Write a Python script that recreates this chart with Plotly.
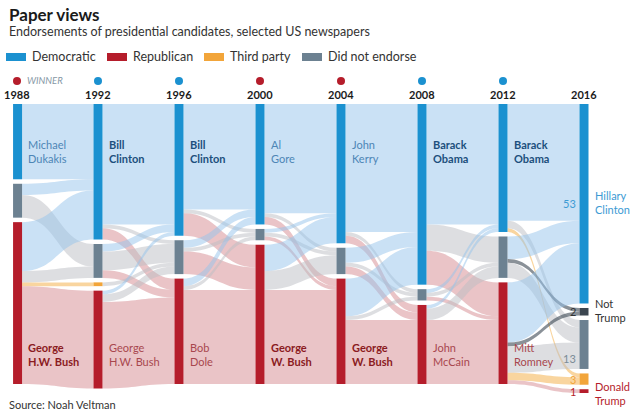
import plotly.graph_objects as go

years = ["1988", "1992", "1996", "2000", "2004", "2008", "2012", "2016"]
winners = ["R", "D", "D", "R", "R", "D", "D", None]

# node categories in each column, top to bottom
col_cats = [
    ["D", "G", "R"],
    ["D", "G", "T", "R"],
    ["D", "G", "R"],
    ["D", "G", "R"],
    ["D", "G", "R"],
    ["D", "G", "R"],
    ["D", "G", "R"],
    ["D", "NT", "G", "T", "R"],
]

# papers moving between elections (rows = from, cols = to)
flow_1988_1992 = [[20, 0, 0, 0], [3, 6, 0, 0], [13, 3, 1, 26]]
flow_1992_1996 = [[32, 1, 3], [2, 5, 2], [0, 1, 0], [1, 2, 23]]
flow_1996_2000 = [[28, 1, 6], [2, 1, 6], [2, 1, 25]]
flow_2000_2004 = [[29, 1, 2], [1, 1, 1], [7, 5, 25]]
flow_2004_2008 = [[34, 1, 2], [4, 1, 2], [10, 1, 17]]
flow_2008_2012 = [[32, 7, 9], [1, 1, 1], [1, 3, 17]]
flow_2012_2016 = [[31, 0, 2, 1, 0], [6, 1, 4, 0, 0], [16, 1, 7, 2, 1]]
flows = [flow_1988_1992, flow_1992_1996, flow_1996_2000, flow_2000_2004,
         flow_2004_2008, flow_2008_2012, flow_2012_2016]

dem_names = ["Michael<br>Dukakis", "Bill<br>Clinton", "Bill<br>Clinton", "Al<br>Gore",
             "John<br>Kerry", "Barack<br>Obama", "Barack<br>Obama"]
rep_names = ["George<br>H.W. Bush", "George<br>H.W. Bush", "Bob<br>Dole", "George<br>W. Bush",
             "George<br>W. Bush", "John<br>McCain", "Mitt<br>Romney"]
labels_2016 = ["Hillary<br>Clinton", "Not<br>Trump", "", "", "Donald<br>Trump"]

legend_names = ["Democratic", "Republican", "Third party", "Did not endorse"]

node_col = {"D": "#1b91d0", "G": "#6c8191", "R": "#b51d2b", "T": "#f2a53a", "NT": "#3c4650"}
link_col = {"D": "rgba(150,196,236,0.5)", "G": "rgba(188,190,196,0.5)",
            "R": "rgba(214,138,144,0.5)", "T": "rgba(244,178,80,0.55)",
            "NT": "rgba(60,72,84,0.6)"}

FONT = "Lato"
W, H = 640, 417
ML, MR, MT, MB = 17, 56, 104, 24
pw, ph = W - ML - MR, H - MT - MB
pad = 4.5


def xp(x):
    return (x - ML) / pw


def yp(y):
    return 1 - (y - MT) / ph


# node values
values = []
for c, cats in enumerate(col_cats):
    vals = []
    for k in range(len(cats)):
        out_v = sum(flows[c][k]) if c < len(flows) else 0
        in_v = sum(row[k] for row in flows[c - 1]) if c > 0 else 0
        vals.append(max(out_v, in_v))
    values.append(vals)
total = sum(values[0])
ky = (ph - 4 * pad) / total

node_x, node_y, node_c, centers, idx = [], [], [], [], []
n = 0
for c, cats in enumerate(col_cats):
    y = 0.0
    ids, cs = [], []
    for k, cat in enumerate(cats):
        h = values[c][k] * ky
        cy = y + h / 2
        y += h + pad
        node_x.append(max(c / 7, 0.001))
        node_y.append(cy / ph)
        node_c.append(node_col[cat])
        ids.append(n)
        cs.append(cy)
        n += 1
    idx.append(ids)
    centers.append(cs)

src, tgt, val, lc = [], [], [], []
for c, m in enumerate(flows):
    for i, row in enumerate(m):
        for j, v in enumerate(row):
            if v:
                src.append(idx[c][i])
                tgt.append(idx[c + 1][j])
                val.append(v)
                lc.append(link_col[col_cats[c + 1][j]])

fig = go.Figure(go.Sankey(
    arrangement="fixed",
    node=dict(pad=pad, thickness=9, x=node_x, y=node_y, color=node_c,
              label=[""] * n, line=dict(width=0)),
    link=dict(source=src, target=tgt, value=val, color=lc),
))

ann = []
shapes = []

ann.append(dict(x=xp(7), y=yp(14), text="<b>Paper views</b>", xanchor="left",
                font=dict(size=17, color="#1a1a1a")))
ann.append(dict(x=xp(7), y=yp(32), text="Endorsements of presidential candidates, selected US newspapers",
                xanchor="left", font=dict(size=12.5, color="#333333")))
ann.append(dict(x=xp(7), y=yp(404), text="Source: Noah Veltman", xanchor="left",
                font=dict(size=11, color="#333333")))

# legend
leg_x = [6, 107, 204, 302]
for name, cat, x0 in zip(legend_names, ["D", "R", "T", "G"], leg_x):
    shapes.append(dict(type="rect", xref="paper", yref="paper", x0=xp(x0), x1=xp(x0 + 20),
                       y0=yp(61), y1=yp(53), fillcolor=node_col[cat], line=dict(width=0)))
    ann.append(dict(x=xp(x0 + 24), y=yp(57), text=name, xanchor="left",
                    font=dict(size=12.5, color="#333333")))

# years and winner dots
for c, yr in enumerate(years):
    ann.append(dict(x=c / 7, y=yp(95), text="<b>" + yr + "</b>", xanchor="center",
                    font=dict(size=11, color="#1a1a1a")))
    if winners[c]:
        shapes.append(dict(type="circle", xref="paper", yref="paper", xsizemode="pixel",
                           ysizemode="pixel", xanchor=c / 7, yanchor=yp(81),
                           x0=-4, x1=4, y0=-4, y1=4, fillcolor=node_col[winners[c]],
                           line=dict(width=0)))
ann.append(dict(x=xp(25), y=yp(81), text="<i>WINNER</i>", xanchor="left",
                font=dict(size=9.5, color="#8698a6")))

# candidate names
for c in range(7):
    dwin = winners[c] == "D"
    ann.append(dict(x=c / 7, xshift=9, y=yp(151), xanchor="left", align="left",
                    text=("<b>%s</b>" % dem_names[c]) if dwin else dem_names[c],
                    font=dict(size=11, color="#1c4f7c" if dwin else "#4d86b6")))
    ann.append(dict(x=c / 7, xshift=9, y=yp(354), xanchor="left", align="left",
                    text=("<b>%s</b>" % rep_names[c]) if not dwin else rep_names[c],
                    font=dict(size=11, color="#8a1b22" if not dwin else "#a8474e")))

# 2016 labels and counts
lab_col = ["#3d9bd4", "#333333", "#7b8b97", node_col["T"], node_col["R"]]
num_shift = [0, 0, -14, 0, 0]
for k, lab in enumerate(labels_2016):
    cy = MT + centers[7][k]
    if lab:
        ann.append(dict(x=1, xshift=9, y=yp(cy + (2 if k == 4 else -1)), xanchor="left",
                        align="left", text=lab, font=dict(size=11, color=lab_col[k])))
    ann.append(dict(x=1, xshift=-6, y=yp(cy), yshift=num_shift[k], xanchor="right",
                    text=str(values[7][k]),
                    font=dict(size=11, color=lab_col[k] if k != 1 else "#333333")))

for a in ann:
    a.setdefault("xref", "paper")
    a.setdefault("yref", "paper")
    a.setdefault("yanchor", "middle")
    a.setdefault("showarrow", False)

fig.update_layout(
    width=W, height=H,
    margin=dict(l=ML, r=MR, t=MT, b=MB),
    paper_bgcolor="white",
    font=dict(family=FONT, color="#333333"),
    annotations=ann,
    shapes=shapes,
)

# page has a default body margin; drop it so the figure sits at the window corner
fig.write_html("out.html", config={"displayModeBar": False},
               post_script="document.body.style.margin='0';")
